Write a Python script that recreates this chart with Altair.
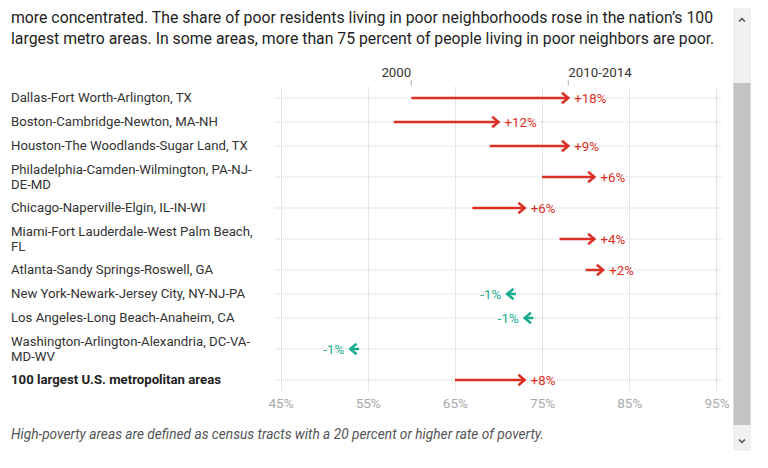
import altair as alt
import pandas as pd

# ---------------- data ----------------
metros = [
    "Dallas-Fort Worth-Arlington, TX",
    "Boston-Cambridge-Newton, MA-NH",
    "Houston-The Woodlands-Sugar Land, TX",
    "Philadelphia-Camden-Wilmington, PA-NJ-\nDE-MD",
    "Chicago-Naperville-Elgin, IL-IN-WI",
    "Miami-Fort Lauderdale-West Palm Beach,\nFL",
    "Atlanta-Sandy Springs-Roswell, GA",
    "New York-Newark-Jersey City, NY-NJ-PA",
    "Los Angeles-Long Beach-Anaheim, CA",
    "Washington-Arlington-Alexandria, DC-VA-\nMD-WV",
    "100 largest U.S. metropolitan areas",
]
share_2000 = [60, 58, 69, 75, 67, 77, 80, 72, 74, 54, 65]
share_2014 = [78, 70, 78, 81, 73, 81, 82, 71, 73, 53, 73]
change_labels = ["+18%", "+12%", "+9%", "+6%", "+6%", "+4%", "+2%", "-1%", "-1%", "-1%", "+8%"]
periods = ["2000", "2010-2014"]
x_ticks = [45, 55, 65, 75, 85, 95]

title_lines = (
    "more concentrated. The share of poor residents living in poor neighborhoods rose in the nation\u2019s 100\n"
    "largest metro areas. In some areas, more than 75 percent of people living in poor neighbors are poor."
)
footnote = "High-poverty areas are defined as census tracts with a 20 percent or higher rate of poverty."

# ---------------- layout helpers ----------------
W, H = 447, 305
RED, TEAL = "#dc2f24", "#17ad8f"
FONT = "Roboto"
LINE_H = 15

n_lines = [m.count("\n") + 1 for m in metros]
row_h = [24 if n == 1 else 38 for n in n_lines]
centers, top = [], 0
for h in row_h:
    centers.append(top + h / 2)
    top += h

df = pd.DataFrame({
    "row": list(range(len(metros))),
    "metro": metros,
    "start": share_2000,
    "end": share_2014,
    "label": change_labels,
    "center": centers,
})
# first text line of a wrapped label sits half a block above the row centre
df["text_y"] = [c - (n - 1) * LINE_H / 2 for c, n in zip(centers, n_lines)]
df["dir"] = ["up" if e >= s else "down" for s, e in zip(df["start"], df["end"])]
df["lo"] = df[["start", "end"]].min(axis=1)
df["hi"] = df[["start", "end"]].max(axis=1)
df["bold"] = [i == len(metros) - 1 for i in range(len(metros))]
df["p0"] = periods[0]
df["p1"] = periods[1]

xscale = alt.Scale(domain=[45, 95], nice=False, zero=False, padding=5.5)
yscale = alt.Scale(domain=[0, H], reverse=True, nice=False, zero=False)
xaxis = alt.Axis(
    values=x_ticks, labelExpr="datum.value + '%'", title=None, grid=True,
    gridColor="#e6e6e6", gridWidth=1, domain=False, ticks=False,
    labelColor="#aaaaaa", labelFont=FONT, labelFontSize=13.5, labelPadding=5,
)
Y = alt.Y("center:Q", scale=yscale, axis=None)
YT = alt.Y("text_y:Q", scale=yscale, axis=None)
col = alt.Color("dir:N", scale=alt.Scale(domain=["up", "down"], range=[RED, TEAL]), legend=None)

base = alt.Chart(df)

hgrid = base.mark_rule(color="#cfcfcf", strokeDash=[1, 1], strokeWidth=1).encode(
    y=Y, x=alt.value(0), x2=alt.value(W)
)

shaft = base.mark_rule(strokeWidth=2.5).encode(
    x=alt.X("start:Q", scale=xscale, axis=xaxis), x2="end:Q", y=Y, color=col
)

heads = base.mark_point(filled=False, size=110, strokeWidth=2.5, opacity=1).encode(
    x=alt.X("end:Q", scale=xscale),
    y=Y,
    color=col,
    shape=alt.Shape("dir:N", scale=alt.Scale(
        domain=["up", "down"],
        range=["M-1.2,-1L0,0L-1.2,1", "M1.2,-1L0,0L1.2,1"]), legend=None),
)

lab_up = base.transform_filter("datum.dir == 'up'").mark_text(
    align="left", baseline="middle", dx=6, dy=1, font=FONT, fontSize=13.3
).encode(x=alt.X("hi:Q", scale=xscale), y=Y, text="label:N", color=col)

lab_dn = base.transform_filter("datum.dir == 'down'").mark_text(
    align="right", baseline="middle", dx=-6, dy=1, font=FONT, fontSize=13.3
).encode(x=alt.X("lo:Q", scale=xscale), y=Y, text="label:N", color=col)

names = base.transform_filter("!datum.bold").mark_text(
    align="left", baseline="middle", lineBreak="\n", lineHeight=LINE_H,
    font=FONT, fontSize=13.2, color="#333333"
).encode(x=alt.value(-264), y=YT, text="metro:N")

names_b = base.transform_filter("datum.bold").mark_text(
    align="left", baseline="middle", font=FONT, fontSize=13.2,
    fontWeight="bold", color="#222222"
).encode(x=alt.value(-264), y=YT, text="metro:N")

first = base.transform_filter("datum.row == 0")
hdr0 = first.mark_text(align="right", baseline="middle", font=FONT, fontSize=13.3,
                       color="#333333").encode(
    x=alt.X("start:Q", scale=xscale), y=alt.value(-13), text="p0:N")
hdr1 = first.mark_text(align="left", baseline="middle", font=FONT, fontSize=13.3,
                       color="#333333").encode(
    x=alt.X("end:Q", scale=xscale), y=alt.value(-13), text="p1:N")
tick0 = first.mark_rule(color="#b0b3c6", strokeWidth=1).encode(
    x=alt.X("start:Q", scale=xscale), y=alt.value(-6), y2=alt.value(0))
tick1 = first.mark_rule(color="#b0b3c6", strokeWidth=1).encode(
    x=alt.X("end:Q", scale=xscale), y=alt.value(-6), y2=alt.value(0))

one = alt.Chart(pd.DataFrame({"t": [title_lines], "f": [footnote]}))
title = one.mark_text(align="left", baseline="middle", lineBreak="\n", lineHeight=21,
                      font=FONT, fontSize=15.8, color="#1e1e1e").encode(
    x=alt.value(-264), y=alt.value(-68), text="t:N")
foot = one.mark_text(align="left", baseline="middle", font=FONT, fontSize=13.7,
                     fontStyle="italic", color="#555555").encode(
    x=alt.value(-264), y=alt.value(349), text="f:N")

# page scrollbar decoration
track = one.mark_rect(color="#f0f0f0").encode(
    x=alt.value(458), x2=alt.value(476), y=alt.value(-86), y2=alt.value(380))
thumb = one.mark_rect(color="#c3c3c3").encode(
    x=alt.value(458.5), x2=alt.value(475.5), y=alt.value(-3), y2=alt.value(339))
arr_up = one.mark_point(shape="M-1,0.5L0,-0.5L1,0.5", size=36, filled=False,
                        strokeWidth=1.5, color="#505050", opacity=1).encode(
    x=alt.value(467), y=alt.value(-66))
arr_dn = one.mark_point(shape="M-1,-0.5L0,0.5L1,-0.5", size=36, filled=False,
                        strokeWidth=1.5, color="#505050", opacity=1).encode(
    x=alt.value(467), y=alt.value(355))

chart = alt.layer(
    hgrid, shaft, heads, lab_up, lab_dn, names, names_b,
    hdr0, hdr1, tick0, tick1, title, foot, track, thumb, arr_up, arr_dn
).properties(
    width=W, height=H,
    autosize=alt.AutoSizeParams(type="none"),
    padding={"left": 267, "top": 78, "right": 38, "bottom": 60},
).configure_view(stroke=None)

chart.save("out.html", embed_options={"renderer": "svg", "actions": False})
